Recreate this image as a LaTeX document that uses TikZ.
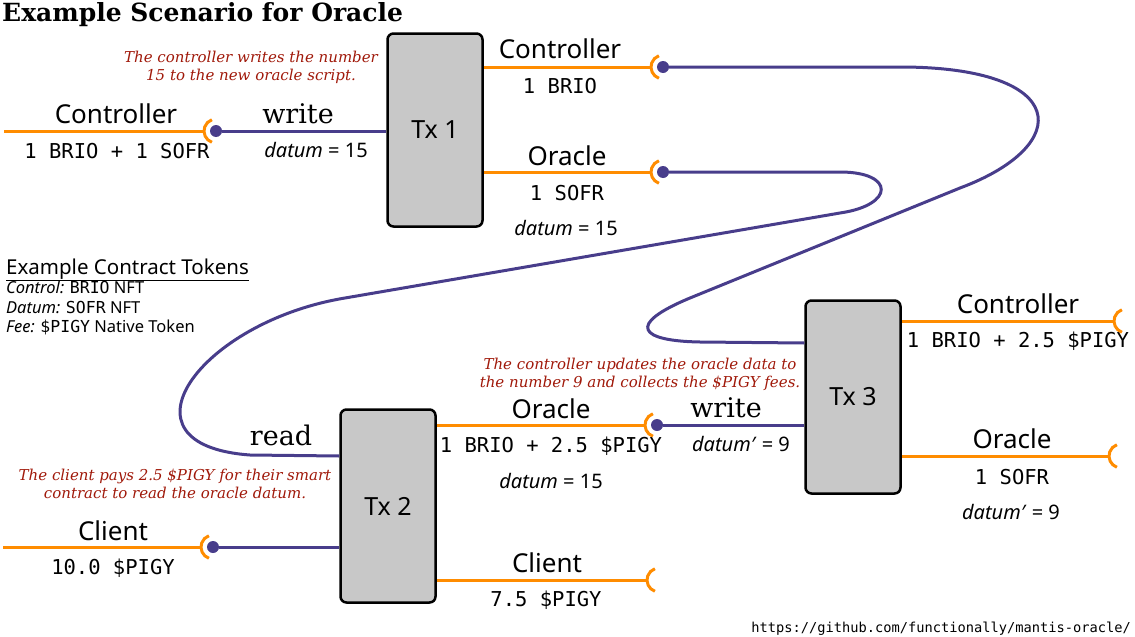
\documentclass[tikz,border=0pt]{standalone}
\usepackage{fontspec}
\setmainfont{Noto Sans}
\setmonofont{DejaVu Sans Mono}
\newfontfamily\notefont{DejaVu Serif}

\begin{document}
\begin{tikzpicture}[x=1pt,y=-1pt]

	\definecolor{txgray}{RGB}{200,200,200}
	\definecolor{tokenorange}{RGB}{255,140,0}
	\definecolor{scriptpurple}{RGB}{72,61,139}
	\definecolor{notered}{RGB}{160,25,10}

	\useasboundingbox (0,0) rectangle (1135,637);

	\tikzstyle{token} = [draw=tokenorange, line width=3pt]
	\tikzstyle{script} = [draw=scriptpurple, line width=3pt]
	\tikzstyle{socket} = [draw=tokenorange, line width=3pt]

	\tikzset{tx/.style = {shape=rectangle, draw, rounded corners=6pt, line width=2.5pt, fill=txgray, minimum width=95pt, minimum height=193pt, font=\fontsize{25}{30}\selectfont}}
	\node[tx] (tx1) at (435,130) {Tx 1};
	\node[tx] (tx2) at (388,506) {Tx 2};
	\node[tx] (tx3) at (853,397) {Tx 3};

	% socket centres
	\coordinate (s1) at (216,131);
	\coordinate (s2) at (663,67);
	\coordinate (s3) at (663,172);
	\coordinate (s4) at (657,425);
	\coordinate (s5) at (659,580);
	\coordinate (s6) at (213,547);
	\coordinate (s7) at (1126,321);
	\coordinate (s8) at (1121,456);
	\coordinate (w1) at (4,131);
	\coordinate (w6) at (3,547);

	\draw[token] (w1) -- ([xshift=-12pt]s1);
	\draw[token] (tx1.east |- s2) -- ([xshift=-12pt]s2);
	\draw[token] (tx1.east |- s3) -- ([xshift=-12pt]s3);
	\draw[token] (tx2.east |- s4) -- ([xshift=-12pt]s4);
	\draw[token] (tx2.east |- s5) -- ([xshift=-12pt]s5);
	\draw[token] (w6) -- ([xshift=-12pt]s6);
	\draw[token] (tx3.east |- s7) -- ([xshift=-12pt]s7);
	\draw[token] (tx3.east |- s8) -- ([xshift=-12pt]s8);

	\foreach \i in {1,...,8}
		\draw[socket] (s\i) ++(110:12) arc[start angle=110, end angle=250, radius=12];

	\tikzset{dot/.style = {shape=circle, fill=scriptpurple, inner sep=0, minimum size=12pt}}
	\node[dot] (d1) at (s1) {};
	\node[dot] (d2) at (s2) {};
	\node[dot] (d3) at (s3) {};
	\node[dot] (d4) at (s4) {};
	\node[dot] (d6) at (s6) {};

	\draw[script] (d1) -- (tx1.west |- d1);
	\draw[script] (d6) -- (tx2.west |- d6);
	\draw[script] (d4) -- (tx3.west |- d4);
	\draw[script] (d2) -- (900,67) .. controls (1070,67) and (1075,145) .. (960,188)
		-- (690,298) .. controls (625,325) and (640,341) .. (700,342) -- ([yshift=54pt]tx3.west);
	\draw[script] (d3) -- (840,172) .. controls (895,172) and (895,205) .. (840,213)
		-- (345,298) .. controls (200,322) and (110,445) .. (250,455) -- ([yshift=50pt]tx2.west);

	\tikzset{owner/.style = {inner sep=0, font=\fontsize{26}{30}\selectfont},
		amt/.style = {inner sep=0, font=\ttfamily\fontsize{20.5}{24}\selectfont},
		dtm/.style = {inner sep=0, font=\fontsize{20}{24}\selectfont},
		act/.style = {inner sep=0, font=\notefont\fontsize{27}{30}\selectfont},
		note/.style = {inner sep=0, align=center, text=notered, font=\notefont\itshape\fontsize{15}{18}\selectfont}}

	% Tx 1
	\node[owner] (c1name) at (116,114) {Controller};
	\node[amt] (c1val) at (117,151) {1 BRIO + 1 SOFR};
	\node[act] (w1act) at (298,114) {write};
	\node[dtm] (w1dtm) at (316,150) {\textit{datum} = 15};
	\node[owner] (c2name) at (560,49) {Controller};
	\node[amt] (c2val) at (560,86) {1 BRIO};
	\node[owner] (o1name) at (567,156) {Oracle};
	\node[amt] (o1val) at (567,193) {1 SOFR};
	\node[dtm] (o1dtm) at (566,228) {\textit{datum} = 15};

	% Tx 2
	\node[act] (r2act) at (281,435) {read};
	\node[owner] (k1name) at (113,531) {Client};
	\node[amt] (k1val) at (113,568) {10.0 \$PIGY};
	\node[owner] (o2name) at (551,409) {Oracle};
	\node[amt] (o2val) at (551,446) {1 BRIO + 2.5 \$PIGY};
	\node[dtm] (o2dtm) at (551,481) {\textit{datum} = 15};
	\node[owner] (k2name) at (547,563) {Client};
	\node[amt] (k2val) at (546,600) {7.5 \$PIGY};

	% Tx 3
	\node[act] (w3act) at (726,408) {write};
	\node[dtm] (w3dtm) at (741,444) {\textit{datum′} = 9};
	\node[owner] (c3name) at (1018,304) {Controller};
	\node[amt] (c3val) at (1018,341) {1 BRIO + 2.5 \$PIGY};
	\node[owner] (o3name) at (1012,439) {Oracle};
	\node[amt] (o3val) at (1012,477) {1 SOFR};
	\node[dtm] (o3dtm) at (1011,512) {\textit{datum′} = 9};

	\node[note] (note1) at (251,67) {The controller writes the number\\15 to the new oracle script.};
	\node[note] (note2) at (640,374) {The controller updates the oracle data to\\the number 9 and collects the \$PIGY fees.};
	\node[note] (note3) at (175,484) {The client pays 2.5 \$PIGY for their smart\\contract to read the oracle datum.};

	\node[anchor=base west, inner sep=0, font=\notefont\bfseries\fontsize{25}{28}\selectfont] (title) at (2,21) {Example Scenario for Oracle};

	\tikzset{legend/.style = {anchor=base west, inner sep=0, font=\fontsize{16.5}{19}\selectfont}}
	\node[legend, font=\fontsize{20.5}{24}\selectfont] (tokens) at (6,274) {\underline{Example Contract Tokens}};
	\node[legend] (ctl) at (6,293) {\textit{Control:} \texttt{BRIO} NFT};
	\node[legend] (dat) at (6,313) {\textit{Datum:} \texttt{SOFR} NFT};
	\node[legend] (fee) at (6,332) {\textit{Fee:} \texttt{\$PIGY} Native Token};

	\node[anchor=east, inner sep=0, font=\ttfamily\fontsize{13.7}{16}\selectfont] (url) at (1131,629) {https://github.com/functionally/mantis-oracle/};
\end{tikzpicture}
\end{document}
